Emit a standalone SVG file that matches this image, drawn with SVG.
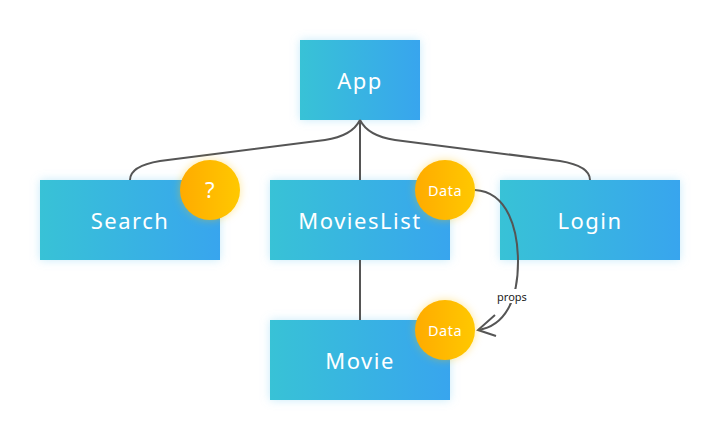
<svg xmlns="http://www.w3.org/2000/svg" width="720" height="440" viewBox="0 0 720 440">
<style>
.box{fill:url(#bg);filter:url(#sh)}
.lbl{font-family:"Noto Sans","DejaVu Sans",sans-serif;font-size:22px;fill:#fff;text-anchor:middle;dominant-baseline:central;letter-spacing:1.5px}
.dot{fill:url(#og);filter:url(#osh)}
.dl{font-family:"Noto Sans","DejaVu Sans",sans-serif;font-size:14.5px;fill:#fff;text-anchor:middle;dominant-baseline:central;letter-spacing:0.5px}
.q{font-size:22px}
.c{fill:none;stroke:#555;stroke-width:2}
</style>
<defs>
<linearGradient id="bg" x1="0" y1="0" x2="1" y2="0"><stop offset="0" stop-color="#38c2d6"/><stop offset="1" stop-color="#37a5ee"/></linearGradient>
<linearGradient id="og" x1="0" y1="0" x2="1" y2="0"><stop offset="0" stop-color="#ffab00"/><stop offset="1" stop-color="#ffc800"/></linearGradient>
<filter id="sh" x="-20%" y="-30%" width="140%" height="160%"><feFlood flood-color="#8fd6f5" flood-opacity="0.5"/><feComposite operator="in" in2="SourceAlpha"/><feGaussianBlur stdDeviation="5"/><feMerge><feMergeNode/><feMergeNode in="SourceGraphic"/></feMerge></filter>
<filter id="osh" x="-40%" y="-40%" width="180%" height="180%"><feFlood flood-color="#ffc400" flood-opacity="0.4"/><feComposite operator="in" in2="SourceAlpha"/><feGaussianBlur stdDeviation="4"/><feMerge><feMergeNode/><feMergeNode in="SourceGraphic"/></feMerge></filter>
</defs>
<g id="app"><rect class="box" x="300" y="40" width="120" height="80"/><text class="lbl" x="360" y="80">App</text></g>
<g id="search"><rect class="box" x="40" y="180" width="180" height="80"/><text class="lbl" x="130" y="220">Search</text></g>
<g id="movieslist"><rect class="box" x="270" y="180" width="180" height="80"/><text class="lbl" x="360" y="220">MoviesList</text></g>
<g id="login"><rect class="box" x="500" y="180" width="180" height="80"/><text class="lbl" x="590" y="220">Login</text></g>
<g id="movie"><rect class="box" x="270" y="320" width="180" height="80"/><text class="lbl" x="360" y="360">Movie</text></g>
<g id="connectors">
<path class="c" d="M360 120 Q352 136 325 140 L160 161 Q130 166 130 180"/>
<path class="c" d="M360 120 Q368 136 395 140 L560 161 Q590 166 590 180"/>
<path class="c" d="M360 120 L360 180"/>
<path class="c" d="M360 260 L360 320"/>
<path class="c" d="M475 190 C508 192 518 230 518 262 C518 300 505 326 478 330"/>
<path class="c" d="M495 315 L478 330 L496 336"/>
<rect x="494" y="289" width="36" height="14" fill="#fff"/>
<text x="512" y="296" font-family="'Noto Sans','DejaVu Sans',sans-serif" font-size="11" fill="#222" text-anchor="middle" dominant-baseline="central">props</text>
</g>
<g id="question"><circle class="dot" cx="210" cy="190" r="30"/><text class="dl q" x="210" y="189">?</text></g>
<g id="data-top"><circle class="dot" cx="445" cy="190" r="30"/><text class="dl" x="445" y="190">Data</text></g>
<g id="data-bottom"><circle class="dot" cx="445" cy="330" r="30"/><text class="dl" x="445" y="330">Data</text></g>
</svg>
